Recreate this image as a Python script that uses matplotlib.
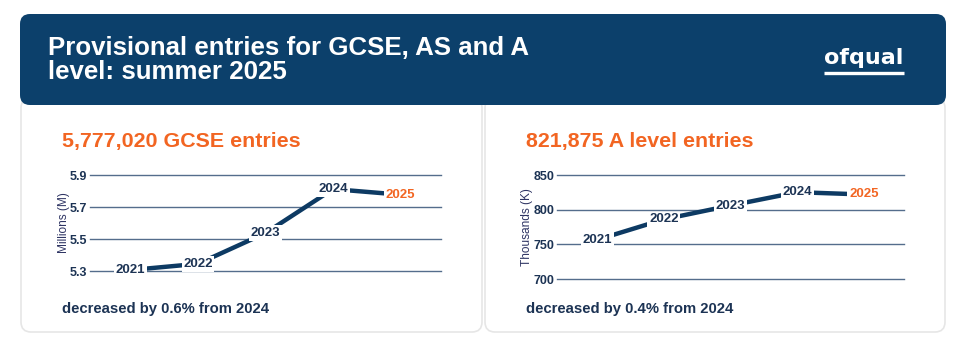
import matplotlib
matplotlib.use('Agg')
import matplotlib.pyplot as plt
from matplotlib.patches import FancyBboxPatch

plt.rcParams['font.family'] = ['Liberation Sans', 'DejaVu Sans']

years = ['2021', '2022', '2023', '2024', '2025']
gcse_entries = [5.306, 5.345, 5.537, 5.812, 5.777]
alevel_entries = [756.5, 786.0, 806.0, 825.2, 821.9]
gcse_ticks = [5.3, 5.5, 5.7, 5.9]
alevel_ticks = [700, 750, 800, 850]

W, H = 961, 355
NAVY = '#0c406b'
ORANGE = '#f26522'
TEXT = '#1c3354'
LINE = '#0d3a63'
GRID = '#546d8c'

fig = plt.figure(figsize=(W / 100, H / 100), dpi=100)
fig.patch.set_facecolor('white')

# background axes in pixel units
bg = fig.add_axes([0, 0, 1, 1])
bg.set_xlim(0, W)
bg.set_ylim(H, 0)
bg.axis('off')

# cards
for x0, x1 in [(21, 482), (485, 945)]:
    bg.add_patch(FancyBboxPatch((x0, 98), x1 - x0, 234, boxstyle='round,pad=0,rounding_size=10',
                                facecolor='white', edgecolor='#e6e6e6', lw=1.2))
# header
bg.add_patch(FancyBboxPatch((20, 14), 926, 91, boxstyle='round,pad=0,rounding_size=10',
                            facecolor=NAVY, edgecolor='none'))
bg.text(48, 60, 'Provisional entries for GCSE, AS and A\nlevel: summer 2025', color='white',
        fontsize=18.6, fontweight='bold', va='center', ha='left', linespacing=1.0)
bg.text(864, 58, 'ofqual', color='white', fontsize=16, fontweight='bold', family='DejaVu Sans',
        ha='center', va='center')
bg.plot([824, 904], [73, 73], color='white', lw=2.4, solid_capstyle='butt')

bg.text(62, 142, '5,777,020 GCSE entries', color=ORANGE, fontsize=15.4, fontweight='bold', va='center')
bg.text(526, 142, '821,875 A level entries', color=ORANGE, fontsize=15.4, fontweight='bold', va='center')
bg.text(62, 309, 'decreased by 0.6% from 2024', color=TEXT, fontsize=10.7, fontweight='bold', va='center')
bg.text(526, 309, 'decreased by 0.4% from 2024', color=TEXT, fontsize=10.7, fontweight='bold', va='center')


def px_axes(x0, x1, ytop, ybot):
    return fig.add_axes([x0 / W, 1 - ybot / H, (x1 - x0) / W, (ybot - ytop) / H])


def draw(ax, values, ticks, ylabel, fmt):
    xs = list(range(len(years)))
    ax.plot(xs, values, color=LINE, lw=3.2, zorder=2, solid_capstyle='butt')
    for i, (x, v) in enumerate(zip(xs, values)):
        c = ORANGE if i == len(years) - 1 else TEXT
        ax.text(x, v, years[i], color=c, fontsize=9.5, fontweight='bold', ha='center', va='center',
                zorder=3, bbox=dict(facecolor='white', edgecolor='none', pad=1.2))
    ax.set_xlim(-0.6, len(years) - 0.4)
    ax.set_ylim(ticks[0], ticks[-1])
    ax.set_yticks(ticks)
    ax.set_yticklabels([fmt % t for t in ticks], fontweight='bold')
    ax.set_xticks([])
    for t in ticks:
        ax.axhline(t, color=GRID, lw=1, zorder=1, clip_on=False)
    for s in ax.spines.values():
        s.set_visible(False)
    ax.tick_params(axis='y', length=0, pad=2, labelsize=9, labelcolor=TEXT)
    ax.set_ylabel(ylabel, fontsize=8.6, color='#2e3463', labelpad=0)
    ax.patch.set_alpha(0)


ax1 = px_axes(90, 441, 175, 271)
draw(ax1, gcse_entries, gcse_ticks, 'Millions (M)', '%.1f')

ax2 = px_axes(557, 904, 175, 279)
draw(ax2, alevel_entries, alevel_ticks, 'Thousands (K)', '%d')

fig.savefig('out.png', dpi=100, facecolor='white')
